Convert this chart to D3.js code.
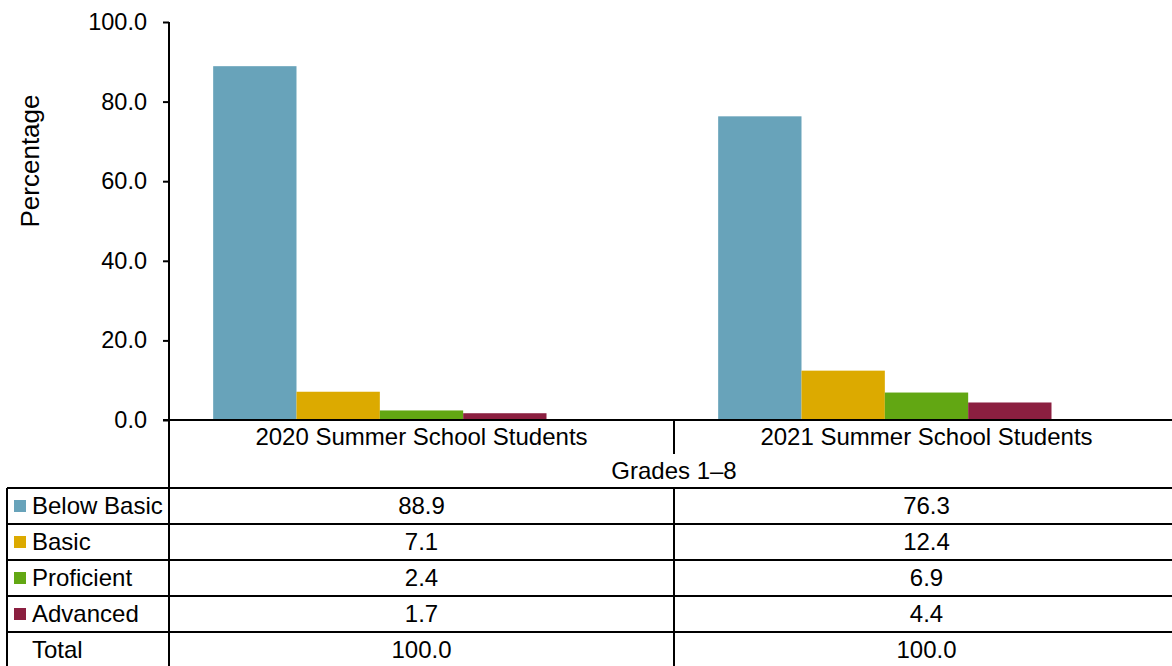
<!DOCTYPE html>
<html>
<head>
  <meta charset="utf-8">
  <script src="https://cdn.jsdelivr.net/npm/d3@7"></script>
  <style>
    body { margin: 0; background: #fff; }
    text {
      font-family: "Liberation Sans", Arial, sans-serif;
      font-size: 24px;
      fill: #000;
    }
    text.yTitle { font-size: 26px; }
    .tick text { font-size: 23.5px; }
    .tick line, path.domain { stroke: #000; stroke-width: 2px; }
    line.grid { stroke: #000; stroke-width: 2px; shape-rendering: crispEdges; }
  </style>
</head>
<body>
  <svg width="1172" height="666"></svg>
  <script>
    // data
    const groups = ["2020 Summer School Students", "2021 Summer School Students"];
    const rows = ["Below Basic", "Basic", "Proficient", "Advanced", "Total"];
    const levels = ["Below Basic", "Basic", "Proficient", "Advanced"];
    const colors = ["#68a3ba", "#dcaa00", "#62a713", "#8b1f40"];
    const values2020 = [88.9, 7.1, 2.4, 1.7, 100.0];
    const values2021 = [76.3, 12.4, 6.9, 4.4, 100.0];
    const yTicks = [0, 20, 40, 60, 80, 100];
    const groupTitle = "Grades 1–8";

    const svg = d3.select("svg");
    const plot = { left: 169, right: 1179, top: 22, bottom: 420 };
    const tableTop = 488, rowH = 36, tableLeft = 7;

    const series = [values2020, values2021];
    const data = [];
    groups.forEach((g, gi) => {
      rows.forEach((r, ri) => data.push({ group: g, row: r, value: series[gi][ri] }));
    });

    const color = d3.scaleOrdinal().domain(levels).range(colors);

    const x0 = d3.scaleBand().domain(groups).range([plot.left, plot.right]);
    // the Total slot is kept in the band but has no bar
    const x1 = d3.scaleBand().domain(rows).range([0, x0.bandwidth()]).paddingOuter(0.53);
    const y = d3.scaleLinear().domain([0, 100]).range([plot.bottom, plot.top]);

    // bars
    svg.append("g").selectAll("rect")
      .data(data.filter(d => levels.includes(d.row)))
      .enter()
      .append("rect")
      .attr("x", d => x0(d.group) + x1(d.row))
      .attr("y", d => y(d.value))
      .attr("width", x1.bandwidth())
      .attr("height", d => y(0) - y(d.value))
      .style("fill", d => color(d.row));

    // y axis
    const yAxis = d3.axisLeft(y)
      .tickValues(yTicks)
      .tickSize(6)
      .tickPadding(16)
      .tickFormat(d3.format(".1f"));
    svg.append("g")
      .attr("transform", `translate(${plot.left},0)`)
      .call(yAxis)
      .call(g => g.select(".domain").remove())
      .selectAll("text")
      .attr("fill", "#000");

    svg.append("text")
      .attr("class", "yTitle")
      .attr("transform", "translate(39,161) rotate(-90)")
      .style("text-anchor", "middle")
      .text("Percentage");

    // frame lines
    const lines = [];
    lines.push([plot.left, plot.top, plot.left, 666]);
    lines.push([plot.left - 6, plot.bottom, 1172, plot.bottom]);
    lines.push([x0(groups[1]), plot.bottom, x0(groups[1]), plot.bottom + 34]);
    lines.push([x0(groups[1]), tableTop, x0(groups[1]), 666]);
    lines.push([tableLeft, tableTop, tableLeft, 666]);
    rows.forEach((r, i) => lines.push([tableLeft, tableTop + i * rowH, 1172, tableTop + i * rowH]));
    svg.append("g").selectAll("line")
      .data(lines)
      .enter()
      .append("line")
      .attr("class", "grid")
      .attr("x1", d => d[0]).attr("y1", d => d[1])
      .attr("x2", d => d[2]).attr("y2", d => d[3]);

    // category labels
    svg.append("g").selectAll("text")
      .data(groups)
      .enter()
      .append("text")
      .attr("x", d => x0(d) + x0.bandwidth() / 2)
      .attr("y", plot.bottom + 17)
      .attr("dy", "0.35em")
      .style("text-anchor", "middle")
      .text(d => d);

    svg.append("text")
      .attr("x", x0(groups[1]))
      .attr("y", 471)
      .attr("dy", "0.35em")
      .style("text-anchor", "middle")
      .text(groupTitle);

    // table rows
    const rowG = svg.append("g").selectAll("g")
      .data(rows)
      .enter()
      .append("g")
      .attr("transform", (d, i) => `translate(0,${tableTop + i * rowH + rowH / 2})`);

    rowG.filter(d => levels.includes(d))
      .append("rect")
      .attr("x", 14)
      .attr("y", -6)
      .attr("width", 12)
      .attr("height", 12)
      .style("fill", d => color(d));

    rowG.append("text")
      .attr("x", 32)
      .attr("dy", "0.35em")
      .text(d => d);

    groups.forEach((g, gi) => {
      rowG.append("text")
        .attr("x", x0(g) + x0.bandwidth() / 2)
        .attr("dy", "0.35em")
        .style("text-anchor", "middle")
        .text((d, i) => d3.format(".1f")(series[gi][i]));
    });
  </script>
</body>
</html>
